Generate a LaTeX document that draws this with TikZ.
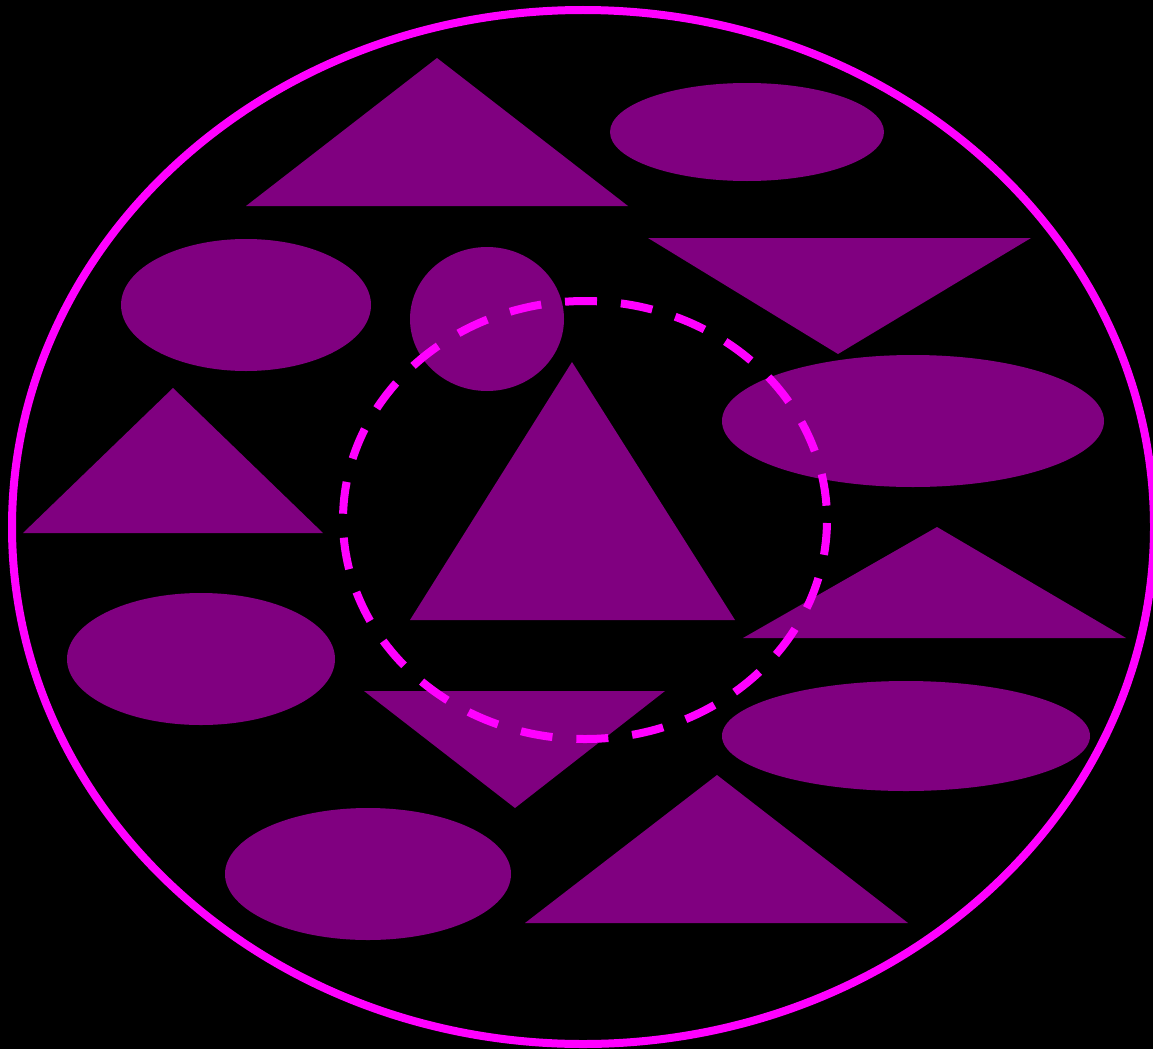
\documentclass[tikz,border=0pt]{standalone}
\definecolor{mag}{HTML}{FF00FF}
\definecolor{pur}{HTML}{800080}
\begin{document}
\begin{tikzpicture}[x=1pt,y=-1pt,
  shp/.style={fill=pur,draw=none},
  ring/.style={draw=mag,line width=8pt}]
\fill[black] (0,0) rectangle (1153,1049);
\useasboundingbox (0,0) rectangle (1153,1049);
% shapes
\fill[shp] (437,58) -- (246,206) -- (628,206) -- cycle;
\fill[shp] (747,132) ellipse [x radius=137, y radius=49];
\fill[shp] (246,305) ellipse [x radius=125, y radius=66];
\fill[shp] (487,319) ellipse [x radius=77, y radius=72];
\fill[shp] (648,238) -- (1031,238) -- (838,354) -- cycle;
\fill[shp] (913,421) ellipse [x radius=191, y radius=66];
\fill[shp] (173,388) -- (23,533) -- (323,533) -- cycle;
\fill[shp] (572,362) -- (410,620) -- (735,620) -- cycle;
\fill[shp] (937,527) -- (743,638) -- (1126,638) -- cycle;
\fill[shp] (201,659) ellipse [x radius=134, y radius=66];
\fill[shp] (364,691) -- (665,691) -- (515,808) -- cycle;
\fill[shp] (906,736) ellipse [x radius=184, y radius=55];
\fill[shp] (368,874) ellipse [x radius=143, y radius=66];
\fill[shp] (717,775) -- (525,923) -- (908,923) -- cycle;
% outer ring
\draw[ring] (583,527) ellipse [x radius=571, y radius=517];
% dashed circle
\draw[ring,dash pattern=on 32pt off 24pt,dash phase=53pt] (585,520) ellipse [x radius=242, y radius=219];
\end{tikzpicture}
\end{document}
